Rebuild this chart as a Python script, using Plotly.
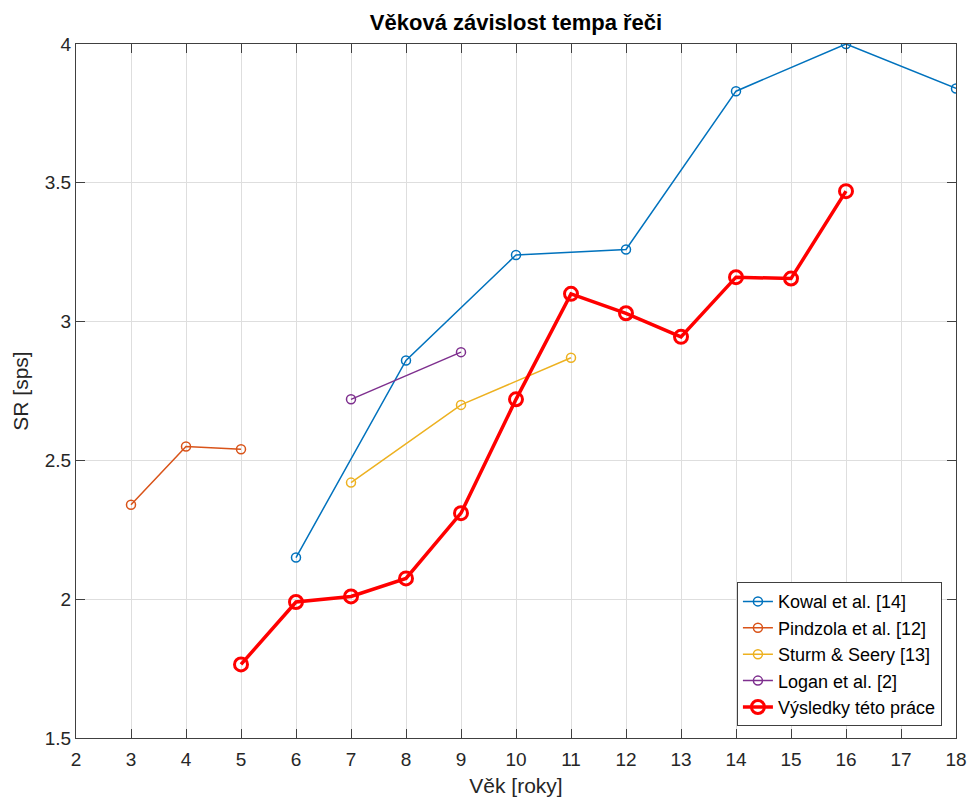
import plotly.graph_objects as go

# Speech rate (syllables per second) by age, several studies
kowal_age = [6, 8, 10, 12, 14, 16, 18]
kowal_sr = [2.15, 2.86, 3.24, 3.26, 3.83, 4.00, 3.84]

pindzola_age = [3, 4, 5]
pindzola_sr = [2.34, 2.55, 2.54]

sturm_age = [7, 9, 11]
sturm_sr = [2.42, 2.70, 2.87]

logan_age = [7, 9]
logan_sr = [2.72, 2.89]

vysledky_age = [5, 6, 7, 8, 9, 10, 11, 12, 13, 14, 15, 16]
vysledky_sr = [1.765, 1.99, 2.01, 2.075, 2.31, 2.72, 3.10, 3.03, 2.945, 3.16, 3.155, 3.47]

x_ticks = list(range(2, 19))
y_ticks = [1.5, 2, 2.5, 3, 3.5, 4]
y_tick_text = ["1.5", "2", "2.5", "3", "3.5", "4"]

FONT = "Liberation Sans, Arial, sans-serif"

series = [
    ("Kowal et al. [14]", kowal_age, kowal_sr, "#0072BD", 1.5, 9, 1.5),
    ("Pindzola et al. [12]", pindzola_age, pindzola_sr, "#D95319", 1.5, 9, 1.5),
    ("Sturm & Seery [13]", sturm_age, sturm_sr, "#EDB120", 1.5, 9, 1.5),
    ("Logan et al. [2]", logan_age, logan_sr, "#7E2F8E", 1.5, 9, 1.5),
    ("Výsledky této práce", vysledky_age, vysledky_sr, "#FF0000", 3.5, 13, 3),
]

fig = go.Figure()
for name, xs, ys, color, lw, ms, mlw in series:
    fig.add_trace(go.Scatter(
        x=xs, y=ys, name=name, mode="lines+markers",
        line=dict(color=color, width=lw),
        marker=dict(symbol="circle-open", size=ms, color=color,
                    line=dict(color=color, width=mlw)),
    ))

axis_common = dict(
    showline=True, linecolor="#404040", linewidth=1, mirror="ticks",
    ticks="inside", ticklen=9, tickcolor="#404040",
    showgrid=True, gridcolor="#DEDEDE", gridwidth=1,
    zeroline=False, automargin=False,
    tickfont=dict(family=FONT, size=19, color="#262626"),
)

fig.update_layout(
    width=968, height=801,
    margin=dict(l=76, r=12, t=44, b=63),
    paper_bgcolor="white", plot_bgcolor="white",
    title=dict(text="<b>Věková závislost tempa řeči</b>",
               x=(76 + 956) / 2 / 968, xanchor="center", y=0.972, yanchor="middle",
               font=dict(family=FONT, size=22, color="black")),
    xaxis=dict(range=[2, 18], tickvals=x_ticks, ticklabelstandoff=4,
               title=dict(text="Věk [roky]", standoff=9,
                          font=dict(family=FONT, size=21, color="#262626")),
               **axis_common),
    yaxis=dict(range=[1.5, 4], tickvals=y_ticks, ticktext=y_tick_text,
               title=dict(text="SR [sps]", standoff=10,
                          font=dict(family=FONT, size=21, color="#262626")),
               **axis_common),
    legend=dict(x=0.984, xanchor="right", y=0.017, yanchor="bottom",
                bgcolor="white", bordercolor="#404040", borderwidth=1,
                font=dict(family=FONT, size=18, color="black"),
                tracegroupgap=0, itemwidth=30),
    showlegend=True,
)

fig.write_html("out.html")
